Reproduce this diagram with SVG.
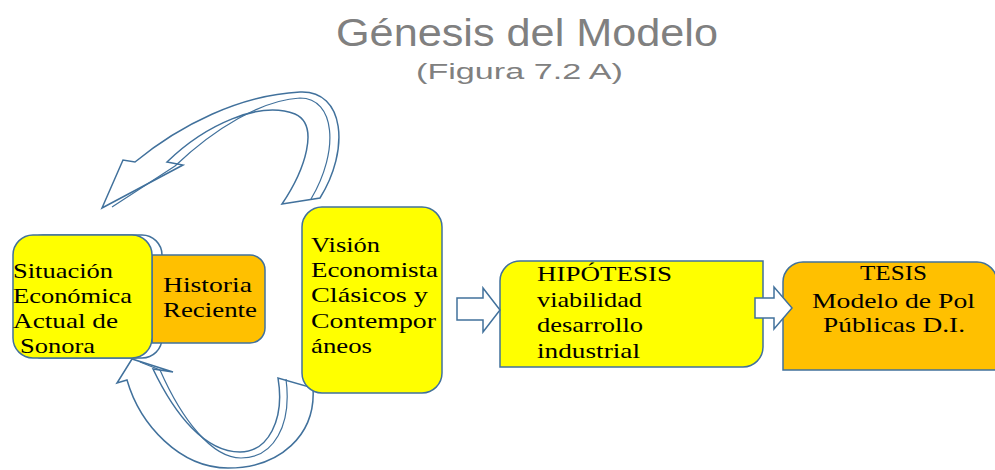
<svg xmlns="http://www.w3.org/2000/svg" width="995" height="470" viewBox="0 0 995 470">
<style>
.box{stroke:#41719C;stroke-width:1.5}
.yel{fill:#FFFF00}
.org{fill:#FFC000}
.arr{fill:#FFFFFF;stroke:#41719C;stroke-width:1.5;stroke-linejoin:miter}
.str{fill:none;stroke:#41719C;stroke-width:1.2}
.t{font-family:"Liberation Serif","Times New Roman",serif;font-size:22px;fill:#000}
.ttl{font-family:"Liberation Sans",Arial,sans-serif;fill:#808080}
</style>
<rect width="995" height="470" fill="#FFFFFF"/>
<g id="title">
<text class="ttl" x="336" y="46" font-size="38" textLength="382" lengthAdjust="spacingAndGlyphs">Génesis del Modelo</text>
<text class="ttl" x="416" y="79" font-size="22" textLength="207" lengthAdjust="spacingAndGlyphs">(Figura 7.2 A)</text>
</g>
<g id="connectors">
<path class="arr" d="M102,208 L123,160 L135,162 C180,125 240,95 300,92 C345,90 350,150 320,198 L282,204 C305,170 320,125 295,114 C260,100 205,125 167,162 L183,165 Z"/>
<path class="str" d="M112,207 L175,166 C215,128 262,100 300,98 C335,98 340,150 311,199"/>
<path class="arr" d="M132,359 L117,383 L127,380 C140,425 180,468 228,468 C280,468 316,435 313,388 L278,378 C285,420 268,452 240,452 C205,452 175,415 153,369 L173,372 Z"/>
<path class="str" d="M140,362 L160,370 C182,420 212,458 241,458 C274,458 292,425 286,379"/>
</g>
<g id="node-situacion">
<rect class="box" x="23" y="235" width="139" height="123" rx="20" fill="#FFFFFF"/>
</g>
<g id="node-historia">
<path class="box org" d="M152,255 H250 A15,15 0 0 1 265,270 V328 A15,15 0 0 1 250,343 H152 Z"/>
<text class="t" x="163" y="292" textLength="89" lengthAdjust="spacingAndGlyphs">Historia</text>
<text class="t" x="163" y="317" textLength="94" lengthAdjust="spacingAndGlyphs">Reciente</text>
</g>
<g id="node-situacion-front">
<rect class="box yel" x="13" y="235" width="139" height="123" rx="20"/>
<text class="t" x="13" y="278" textLength="100" lengthAdjust="spacingAndGlyphs">Situación</text>
<text class="t" x="13" y="303" textLength="119" lengthAdjust="spacingAndGlyphs">Económica</text>
<text class="t" x="13" y="328" textLength="105" lengthAdjust="spacingAndGlyphs">Actual de</text>
<text class="t" x="20" y="353" textLength="75" lengthAdjust="spacingAndGlyphs">Sonora</text>
</g>
<g id="node-vision">
<rect class="box yel" x="302" y="207" width="140" height="186" rx="20"/>
<text class="t" x="311" y="252" textLength="69" lengthAdjust="spacingAndGlyphs">Visión</text>
<text class="t" x="311" y="277" textLength="127" lengthAdjust="spacingAndGlyphs">Economista</text>
<text class="t" x="311" y="302" textLength="117" lengthAdjust="spacingAndGlyphs">Clásicos y</text>
<text class="t" x="311" y="328" textLength="125" lengthAdjust="spacingAndGlyphs">Contempor</text>
<text class="t" x="311" y="353" textLength="61" lengthAdjust="spacingAndGlyphs">áneos</text>
</g>
<g id="node-hipotesis">
<path class="box yel" d="M500,281 A20,20 0 0 1 520,261 H763 V347 A20,20 0 0 1 743,367 H500 Z"/>
<text class="t" x="537" y="281" textLength="135" lengthAdjust="spacingAndGlyphs">HIPÓTESIS</text>
<text class="t" x="537" y="307" textLength="105" lengthAdjust="spacingAndGlyphs">viabilidad</text>
<text class="t" x="537" y="332" textLength="106" lengthAdjust="spacingAndGlyphs">desarrollo</text>
<text class="t" x="537" y="358" textLength="103" lengthAdjust="spacingAndGlyphs">industrial</text>
</g>
<g id="node-tesis">
<path class="box org" d="M783,282 A20,20 0 0 1 803,262 H977 A20,20 0 0 1 997,282 V370 H783 Z"/>
<text class="t" x="860" y="280" textLength="67" lengthAdjust="spacingAndGlyphs">TESIS</text>
<text class="t" x="812" y="308" textLength="163" lengthAdjust="spacingAndGlyphs">Modelo de Pol</text>
<text class="t" x="823" y="332" textLength="142" lengthAdjust="spacingAndGlyphs">Públicas D.I.</text>
</g>
<g id="arrows-right">
<path class="arr" d="M457,298 H483 V288 L500,310 L483,332 V320 H457 Z"/>
<path class="arr" d="M755,298 H774 V287 L792,308 L774,329 V318 H755 Z"/>
</g>
</svg>
